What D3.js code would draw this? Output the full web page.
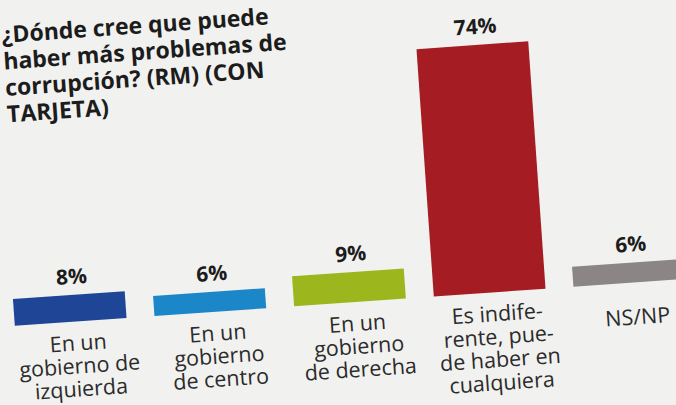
<!DOCTYPE html>
<html>
<head>
<meta charset="utf-8">
<script src="https://cdn.jsdelivr.net/npm/d3@7"></script>
<style>
  html, body { margin: 0; padding: 0; background: #f1f1ef; }
  svg { display: block; }
</style>
</head>
<body>
<svg id="canvas" width="676" height="405"></svg>
<script>
// Data
var titleLines = ["¿Dónde cree que puede", "haber más problemas de", "corrupción? (RM) (CON", "TARJETA)"];
var categories = ["izq", "centro", "derecha", "indiferente", "nsnp"];
var values = [8, 6, 9, 74, 6];
var valueLabels = ["8%", "6%", "9%", "74%", "6%"];
var categoryLabels = [
  ["En un", "gobierno de", "izquierda"],
  ["En un", "gobierno", "de centro"],
  ["En un", "gobierno", "de derecha"],
  ["Es indife-", "rente, pue-", "de haber en", "cualquiera"],
  ["NS/NP"]
];
var barColors = ["#1f4596", "#1b86c8", "#9cb71e", "#a51c22", "#8b8586"];

var svg = d3.select("#canvas"),
  width = +svg.attr("width"),
  height = +svg.attr("height");

// the printed chart is photographed a little tilted
var g = svg.append("g")
  .attr("transform", "rotate(-4," + (width / 2) + "," + (height / 2) + ")");

var baseline = 303;

var x = d3.scaleBand()
  .domain(categories)
  .range([7, 679])
  .paddingInner(0.2)
  .paddingOuter(0);

var y = d3.scaleLinear()
  .domain([0, 74])
  .range([baseline, 55]);

//Title
g.append("text")
  .attr("font-family", "'Open Sans', sans-serif")
  .attr("font-weight", "bold")
  .attr("font-size", 23)
  .attr("fill", "#1c1c1c")
  .selectAll("tspan")
  .data(titleLines)
  .enter().append("tspan")
  .attr("x", 14)
  .attr("y", function(d, i) { return 20 + i * 26.5; })
  .text(function(d) { return d; });

//Bars
g.append("g")
  .selectAll("rect")
  .data(values)
  .enter().append("rect")
  .attr("x", function(d, i) { return x(categories[i]); })
  .attr("y", function(d) { return y(d); })
  .attr("width", x.bandwidth())
  .attr("height", function(d) { return baseline - y(d); })
  .attr("fill", function(d, i) { return barColors[i]; });

//Value labels
g.append("g")
  .selectAll("text")
  .data(values)
  .enter().append("text")
  .attr("x", function(d, i) { return x(categories[i]) + x.bandwidth() / 2 + 4; })
  .attr("y", function(d) { return y(d) - 11; })
  .attr("text-anchor", "middle")
  .attr("font-family", "'Open Sans', sans-serif")
  .attr("font-weight", "bold")
  .attr("font-size", 21)
  .attr("fill", "#1c1c1c")
  .text(function(d, i) { return valueLabels[i]; });

//Category labels
var catText = g.append("g")
  .selectAll("text")
  .data(categoryLabels)
  .enter().append("text")
  .attr("text-anchor", "middle")
  .attr("font-family", "'Open Sans', sans-serif")
  .attr("font-size", 21.5)
  .attr("fill", "#2b2b2b");

catText.selectAll("tspan")
  .data(function(d, i) { return d.map(function(t) { return {t: t, i: i, n: d.length}; }); })
  .enter().append("tspan")
  .attr("x", function(d) { return x(categories[d.i]) + x.bandwidth() / 2 + 6; })
  .attr("y", function(d, j) { return 332 + (d.n === 1 ? 13 : 0) + j * 23; })
  .text(function(d) { return d.t; });
</script>
</body>
</html>
